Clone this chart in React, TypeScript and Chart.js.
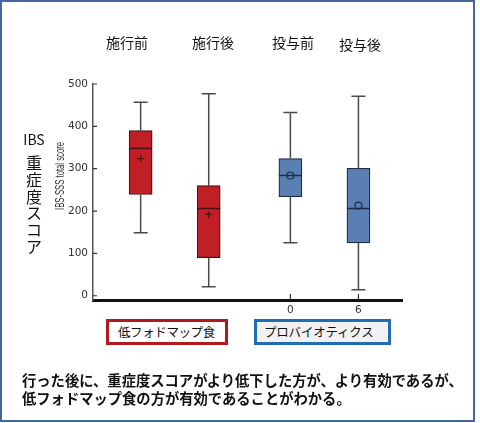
import { useEffect, useRef } from "react";
import { Chart, registerables } from "chart.js";

Chart.register(...registerables);

// ---- data ----
const categories = ["施行前", "施行後", "投与前", "投与後"];
const groupPositions = [1, 2, 3.2, 4.2];
const whiskerMin = [149, 21, 125, 14];
const q1 = [239, 90, 234, 125];
const medians = [348, 206, 284, 206];
const q3 = [390, 260, 324, 301];
const whiskerMax = [457, 477, 433, 471];
const means = [324, 192, 284, 213];
const meanMarkers = ["plus", "plus", "circle", "circle"];
const yTicks = [0, 100, 200, 300, 400, 500];
const xTickPositions = [3.2, 4.2];
const xTickLabels = ["0", "6"];
const legendLabels = ["低フォドマップ食", "プロバイオティクス"];
const yTitle = "IBS-SSS total score";
const leftLabelTop = "IBS";
const leftLabelChars = ["重", "症", "度", "ス", "コ", "ア"];
const noteLines = [
  "行った後に、重症度スコアがより低下した方が、より有効であるが、",
  "低フォドマップ食の方が有効であることがわかる。",
];

// ---- styles ----
const boxFills = ["#c21f26", "#c21f26", "#5a7fb2", "#5a7fb2"];
const boxEdges = ["#4a1212", "#4a1212", "#1c2c4c", "#1c2c4c"];
const titleCenters = [127, 213, 293, 360];
const titleTops = [34, 34, 34, 36];

const boxPlugin = {
  id: "boxDetails",
  afterDatasetsDraw(chart: any) {
    const ctx = chart.ctx as CanvasRenderingContext2D;
    const ys = chart.scales.y;
    const meta = chart.getDatasetMeta(0);
    meta.data.forEach((el: any, i: number) => {
      const x = el.x;
      const w = el.width;
      const cap = 7;
      ctx.save();
      ctx.strokeStyle = "#4a4a4a";
      ctx.lineWidth = 1.5;
      const yMax = ys.getPixelForValue(whiskerMax[i]);
      const yMin = ys.getPixelForValue(whiskerMin[i]);
      const yQ1 = ys.getPixelForValue(q1[i]);
      const yQ3 = ys.getPixelForValue(q3[i]);
      ctx.beginPath();
      ctx.moveTo(x, yQ3);
      ctx.lineTo(x, yMax);
      ctx.moveTo(x - cap, yMax);
      ctx.lineTo(x + cap, yMax);
      ctx.moveTo(x, yQ1);
      ctx.lineTo(x, yMin);
      ctx.moveTo(x - cap, yMin);
      ctx.lineTo(x + cap, yMin);
      ctx.stroke();
      // median
      const yMed = ys.getPixelForValue(medians[i]);
      ctx.strokeStyle = boxEdges[i];
      ctx.lineWidth = 1.5;
      ctx.beginPath();
      ctx.moveTo(x - w / 2, yMed);
      ctx.lineTo(x + w / 2, yMed);
      ctx.stroke();
      // mean
      const yMean = ys.getPixelForValue(means[i]);
      ctx.lineWidth = 1.2;
      ctx.beginPath();
      if (meanMarkers[i] === "plus") {
        ctx.moveTo(x - 3.5, yMean);
        ctx.lineTo(x + 3.5, yMean);
        ctx.moveTo(x, yMean - 3.5);
        ctx.lineTo(x, yMean + 3.5);
      } else {
        ctx.arc(x, yMean, 3.5, 0, Math.PI * 2);
      }
      ctx.stroke();
      ctx.restore();
    });
  },
  afterDraw(chart: any) {
    const ctx = chart.ctx as CanvasRenderingContext2D;
    const xs = chart.scales.x;
    const ys = chart.scales.y;
    const area = chart.chartArea;
    ctx.save();
    ctx.strokeStyle = "#333";
    ctx.lineWidth = 1.2;
    ctx.beginPath();
    xTickPositions.forEach((v) => {
      const px = xs.getPixelForValue(v);
      ctx.moveTo(px, area.bottom - 6);
      ctx.lineTo(px, area.bottom);
    });
    yTicks.forEach((v) => {
      const py = ys.getPixelForValue(v);
      ctx.moveTo(area.left, py);
      ctx.lineTo(area.left + 4, py);
    });
    ctx.stroke();
    // rotated y title
    ctx.translate(60.5, 176);
    ctx.rotate(-Math.PI / 2);
    ctx.font = '13px "Liberation Sans"';
    ctx.fillStyle = "#333";
    ctx.textAlign = "center";
    ctx.textBaseline = "middle";
    const tw = ctx.measureText(yTitle).width;
    ctx.scale(68 / tw, 1);
    ctx.fillText(yTitle, 0, 0);
    ctx.restore();
  },
};

export default function App() {
  const canvasRef = useRef<HTMLCanvasElement | null>(null);

  useEffect(() => {
    if (!canvasRef.current) return;
    const chart = new Chart(canvasRef.current, {
      type: "bar",
      data: {
        datasets: [
          {
            data: categories.map((_, i) => ({
              x: groupPositions[i],
              y: [q1[i], q3[i]],
            })) as any,
            backgroundColor: boxFills,
            borderColor: boxEdges,
            borderWidth: 1.2,
            borderSkipped: false,
            barThickness: 23,
          },
        ],
      },
      options: {
        responsive: false,
        animation: false,
        layout: { padding: { left: 50, right: 78, top: 84, bottom: 103 } },
        plugins: {
          legend: { display: false },
          tooltip: { enabled: false },
        },
        scales: {
          x: {
            type: "linear",
            min: 0.3,
            max: 4.84,
            offset: false,
            grid: { display: false, drawTicks: false },
            border: { display: true, color: "#111", width: 3 },
            afterBuildTicks: (s: any) => {
              s.ticks = xTickPositions.map((v) => ({ value: v }));
            },
            afterFit: (s: any) => {
              s.height = 20;
            },
            ticks: {
              autoSkip: false,
              maxRotation: 0,
              padding: 4,
              color: "#333",
              font: { family: "DejaVu Sans", size: 10.5 },
              callback: (v: any) => {
                const idx = xTickPositions.indexOf(Number(v));
                return idx >= 0 ? xTickLabels[idx] : "";
              },
            },
          },
          y: {
            min: -10,
            max: 500,
            grid: { display: false, drawTicks: false },
            border: { display: true, color: "#555", width: 1.5 },
            afterBuildTicks: (s: any) => {
              s.ticks = yTicks.map((v) => ({ value: v }));
            },
            afterFit: (s: any) => {
              s.width = 43;
            },
            ticks: {
              padding: 5,
              color: "#333",
              font: { family: "DejaVu Sans", size: 10.5 },
            },
          },
        },
      },
      plugins: [boxPlugin],
    });
    return () => chart.destroy();
  }, []);

  const jp = '"Noto Sans CJK JP", "Noto Sans", sans-serif';

  return (
    <div
      style={{
        position: "absolute",
        left: 0,
        top: 0,
        width: 480,
        height: 423,
        background: "#fff",
        overflow: "hidden",
        fontFamily: jp,
      }}
    >
      <div
        style={{
          position: "absolute",
          left: 0,
          top: 0,
          width: 475,
          height: 422,
          boxSizing: "border-box",
          border: "2.5px solid #46679c",
        }}
      />
      <canvas
        ref={canvasRef}
        width={480}
        height={423}
        style={{ position: "absolute", left: 0, top: 0 }}
      />
      {categories.map((c, i) => (
        <div
          key={c}
          style={{
            position: "absolute",
            left: titleCenters[i] - 50,
            top: titleTops[i],
            width: 100,
            textAlign: "center",
            fontSize: 14,
            lineHeight: "17px",
            color: "#111",
          }}
        >
          {c}
        </div>
      ))}
      <div
        style={{
          position: "absolute",
          left: 22,
          top: 130,
          width: 24,
          textAlign: "center",
          fontSize: 14,
          lineHeight: "18px",
          color: "#111",
        }}
      >
        {leftLabelTop}
      </div>
      <div
        style={{
          position: "absolute",
          left: 22,
          top: 154,
          width: 24,
          textAlign: "center",
          fontSize: 16,
          lineHeight: "16.8px",
          color: "#111",
        }}
      >
        {leftLabelChars.map((ch, i) => (
          <div key={i}>{ch}</div>
        ))}
      </div>
      <div
        style={{
          position: "absolute",
          left: 106,
          top: 319,
          width: 122,
          height: 26,
          boxSizing: "border-box",
          border: "3px solid #b01a1e",
          background: "#fff",
          fontSize: 12.5,
          letterSpacing: "-0.4px",
          lineHeight: "20px",
          paddingLeft: 9,
          color: "#111",
          whiteSpace: "nowrap",
        }}
      >
        {legendLabels[0]}
      </div>
      <div
        style={{
          position: "absolute",
          left: 254,
          top: 319,
          width: 137,
          height: 26,
          boxSizing: "border-box",
          border: "3px solid #1f6db4",
          background: "#f2f2f2",
          fontSize: 12.5,
          letterSpacing: "-0.2px",
          lineHeight: "20px",
          paddingLeft: 7,
          color: "#111",
          whiteSpace: "nowrap",
        }}
      >
        {legendLabels[1]}
      </div>
      <div
        style={{
          position: "absolute",
          left: 22,
          top: 371,
          width: 450,
          fontSize: 14.3,
          fontWeight: "bold",
          lineHeight: "18px",
          color: "#111",
          whiteSpace: "nowrap",
        }}
      >
        {noteLines.map((l, i) => (
          <div key={i}>{l}</div>
        ))}
      </div>
    </div>
  );
}
